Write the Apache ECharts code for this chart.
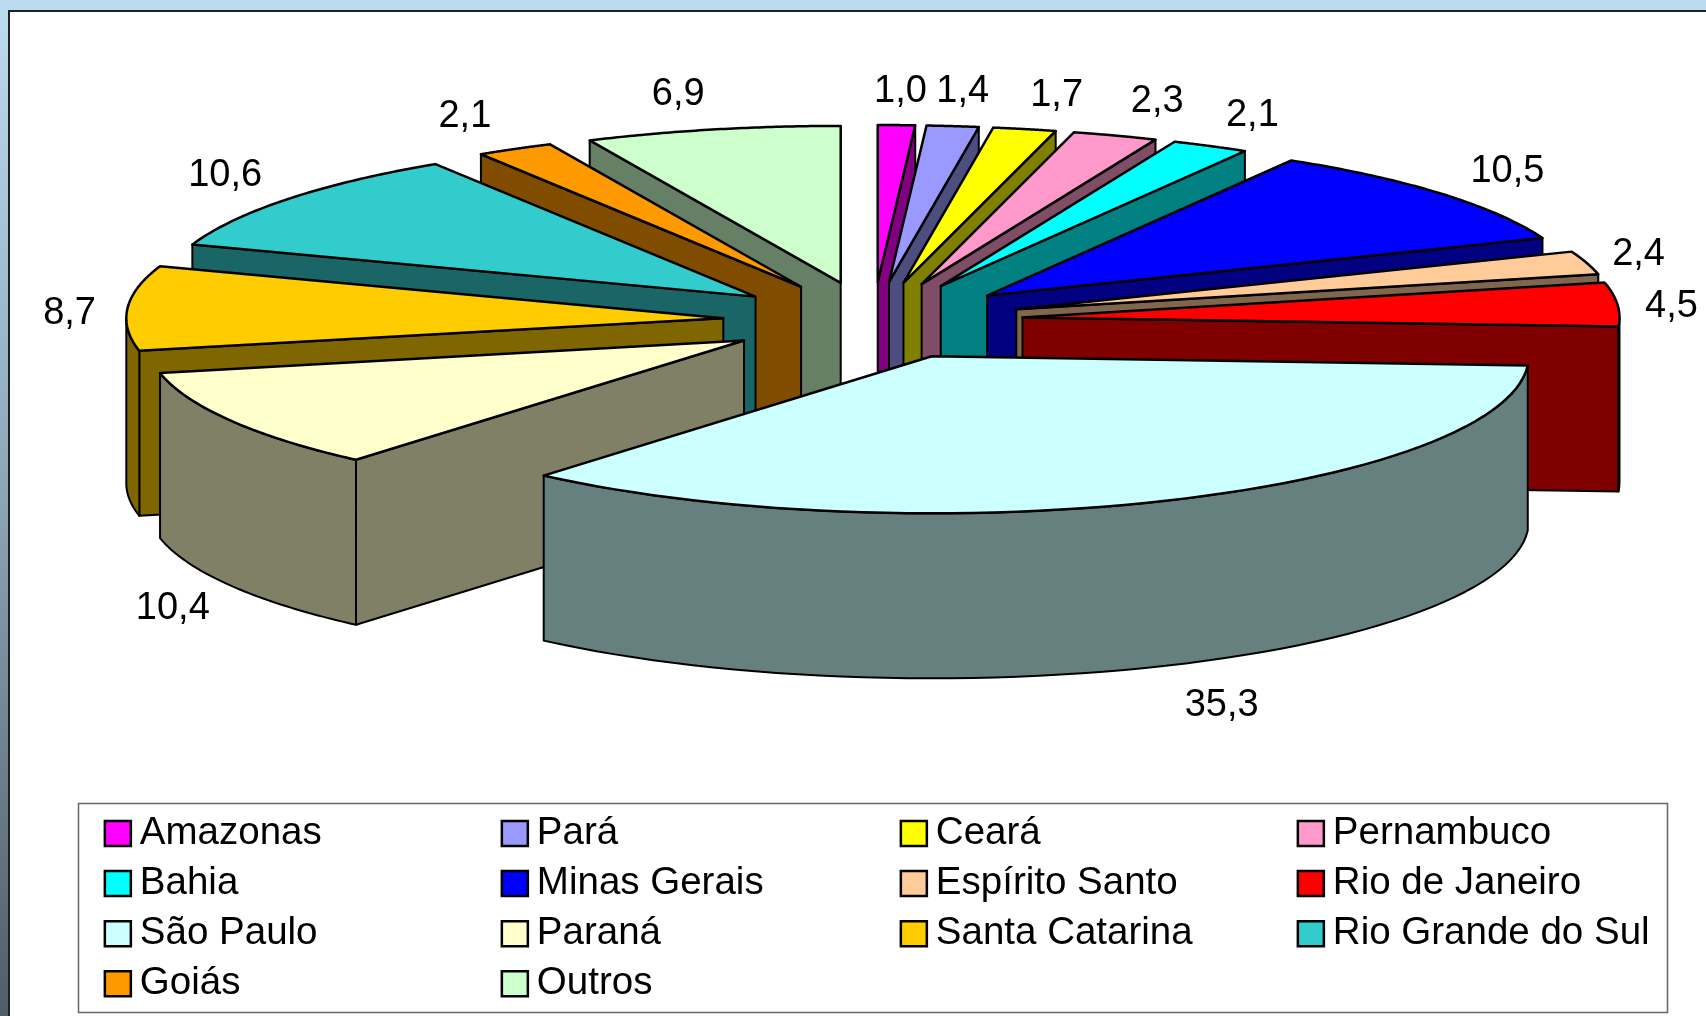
<!DOCTYPE html>
<html>
<head>
<meta charset="utf-8">
<title>Participação por estado</title>
<script src="https://cdn.jsdelivr.net/npm/echarts@6/dist/echarts.min.js"></script>
<style>
html, body { margin: 0; padding: 0; background: #fff; }
#chart { width: 1706px; height: 1016px; }
</style>
</head>
<body>
<div id="chart"></div>
<script>
var states = ['Amazonas', 'Pará', 'Ceará', 'Pernambuco', 'Bahia', 'Minas Gerais', 'Espírito Santo',
    'Rio de Janeiro', 'São Paulo', 'Paraná', 'Santa Catarina', 'Rio Grande do Sul', 'Goiás', 'Outros'];
var shares = [1.0, 1.4, 1.7, 2.3, 2.1, 10.5, 2.4, 4.5, 35.3, 10.4, 8.7, 10.6, 2.1, 6.9];
var topColors = ['#FF00FF', '#9999FF', '#FFFF00', '#FF99CC', '#00FFFF', '#0000FF', '#FFCC99',
    '#FF0000', '#CCFFFF', '#FFFFCC', '#FFCC00', '#33CCCC', '#FF9900', '#CCFFCC'];
var sideColors = ['#800080', '#4D4D80', '#808000', '#804D66', '#008080', '#000080', '#80664D',
    '#800000', '#668080', '#808066', '#806600', '#1A6666', '#804D00', '#668066'];

// projection of the tilted pie, px
var cx = 873, cy = 320.7;
var rx = 597, ry = 157;      // top face ellipse
var ex = 150, ey = 38.7;     // how far a slice is pulled out
var depth = 165;
// label distance from the rim point at the slice's mid angle
var labelOffset = [[4, -34], [10, -35], [32, -34], [42, -34], [42, -31], [66, -22], [52, -8.5],
    [54, 2.5], [56, 204.5], [-58, 188], [-58, 5], [-63, -23], [-50, -32], [-34, -35.5]];

var total = shares.reduce(function (a, b) { return a + b; }, 0);
var startAngles = [];
var run = 0;
shares.forEach(function (v) {
    startAngles.push(run / total * Math.PI * 2);
    run += v;
});

function poly(points, fill, width) {
    return {
        type: 'polygon',
        shape: { points: points },
        style: { fill: fill, stroke: '#000', lineWidth: width, lineJoin: 'round' }
    };
}

function renderSlice(idx, value) {
    var a0 = startAngles[idx];
    var a1 = a0 + value / total * Math.PI * 2;
    var mid = (a0 + a1) / 2;
    // slice apex after the pull out
    var ax = cx + ex * Math.sin(mid);
    var ay = cy - ey * Math.cos(mid);
    var rim = function (a) {
        return [ax + rx * Math.sin(a), ay - ry * Math.cos(a)];
    };
    var down = function (p) { return [p[0], p[1] + depth]; };
    var apex = [ax, ay];
    var kids = [];

    // cut faces, only those turned to the viewer
    if (Math.sin(a0) < 0) {
        kids.push(poly([apex, rim(a0), down(rim(a0)), down(apex)], sideColors[idx], 2));
    }
    if (Math.sin(a1) > 0) {
        kids.push(poly([apex, rim(a1), down(rim(a1)), down(apex)], sideColors[idx], 2));
    }
    // outer wall: front half of the rim only
    var w0 = Math.max(a0, Math.PI / 2), w1 = Math.min(a1, Math.PI * 1.5);
    if (w1 > w0) {
        var upper = [], lower = [];
        for (var k = 0; k <= 60; k++) {
            var p = rim(w0 + (w1 - w0) * k / 60);
            upper.push(p);
            lower.unshift(down(p));
        }
        kids.push(poly(upper.concat(lower), sideColors[idx], 2));
    }
    // top face
    var top = [apex];
    for (var n = 0; n <= 60; n++) {
        top.push(rim(a0 + (a1 - a0) * n / 60));
    }
    kids.push(poly(top, topColors[idx], 2.5));

    // value label, decimal comma as in the original
    var far = [cx + (rx + ex) * Math.sin(mid), cy - (ry + ey) * Math.cos(mid)];
    kids.push({
        type: 'text',
        style: {
            x: far[0] + labelOffset[idx][0],
            y: far[1] + labelOffset[idx][1],
            text: value.toFixed(1).replace('.', ','),
            font: '38px "Liberation Sans"',
            fill: '#000',
            align: 'center',
            verticalAlign: 'middle'
        }
    });
    return { type: 'group', children: kids };
}

// back slices get painted first
function paintRank(i) {
    var mid = startAngles[i] + shares[i] / total * Math.PI;
    return -Math.cos(mid);
}
var paintOrder = states.map(function (s, i) { return i; }).sort(function (a, b) {
    return paintRank(a) - paintRank(b);
});

var series = states.map(function (name, i) {
    return {
        name: name,
        type: 'custom',
        coordinateSystem: 'none',
        silent: true,
        z: 2 + paintOrder.indexOf(i),
        itemStyle: { color: topColors[i] },
        data: [shares[i]],
        renderItem: function (params, api) {
            return renderSlice(i, api.value(0));
        }
    };
});

// one legend block per column so that the columns stay aligned
var legendLeft = [98.6, 495.6, 894.6, 1291.6];
var legends = legendLeft.map(function (left, col) {
    var names = states.filter(function (s, i) { return i % 4 === col; });
    return {
        orient: 'vertical',
        left: left,
        top: 809,
        height: 206,
        itemWidth: 26,
        itemHeight: 25,
        itemGap: 11.1,
        icon: 'rect',
        selectedMode: false,
        itemStyle: { borderColor: '#000', borderWidth: 2.5 },
        textStyle: {
            fontFamily: 'Liberation Sans',
            fontSize: 38.5,
            color: '#000',
            padding: [0, 0, 0, 4],
            lineHeight: 25
        },
        data: names
    };
});

var chart = echarts.init(document.getElementById('chart'));
var option = {
    animation: false,
    backgroundColor: '#fff',
    graphic: [
        // slide background left of and above the white panel
        {
            type: 'rect', z: 0,
            shape: { x: 0, y: 0, width: 1706, height: 1016 },
            style: {
                fill: new echarts.graphic.LinearGradient(0, 0, 0, 1, [
                    { offset: 0, color: '#BEDCF0' },
                    { offset: 0.5, color: '#8CA3B3' },
                    { offset: 1, color: '#4F5D67' }
                ])
            }
        },
        {
            type: 'rect', z: 1,
            shape: { x: 9, y: 11, width: 1710, height: 1020 },
            style: { fill: '#fff', stroke: '#1c2226', lineWidth: 2 }
        },
        {
            type: 'rect', z: 1,
            shape: { x: 78.5, y: 803.5, width: 1589, height: 209 },
            style: { fill: '#fff', stroke: '#666', lineWidth: 1.5 }
        }
    ],
    legend: legends,
    series: series
};
chart.setOption(option);
window.onresize = function () {
    chart.resize();
};
</script>
</body>
</html>
